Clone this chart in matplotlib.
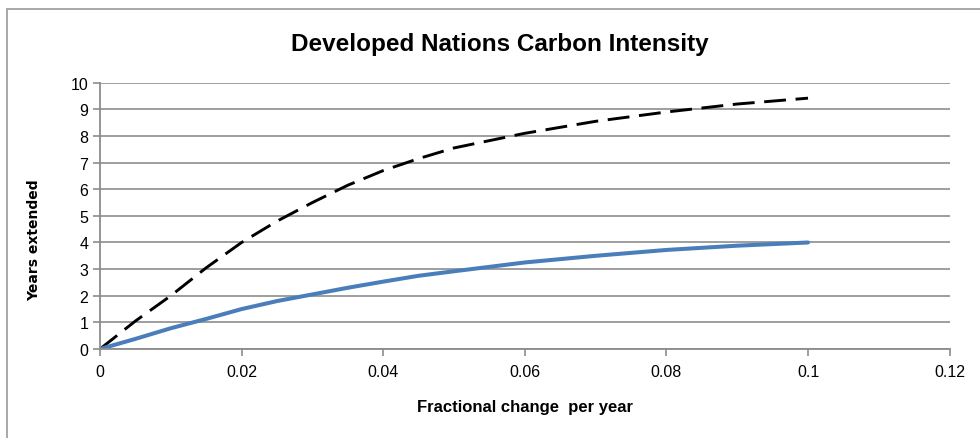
"""Developed nations carbon intensity: years extended vs fractional change"""

import matplotlib
matplotlib.use("Agg")
import matplotlib.pyplot as plt
from matplotlib.patches import Rectangle

frac_change = [0, 0.005, 0.01, 0.015, 0.02, 0.025, 0.03, 0.035, 0.04, 0.045,
               0.05, 0.06, 0.07, 0.08, 0.09, 0.1]
years_dashed = [0, 1.05, 2.0, 3.05, 4.0, 4.8, 5.5, 6.15, 6.7, 7.15,
                7.55, 8.1, 8.55, 8.9, 9.2, 9.42]
years_solid = [0, 0.38, 0.78, 1.13, 1.5, 1.8, 2.05, 2.3, 2.53, 2.75,
               2.92, 3.25, 3.5, 3.72, 3.88, 4.0]

x_ticks = [0, 0.02, 0.04, 0.06, 0.08, 0.1, 0.12]
x_tick_labels = ["0", "0.02", "0.04", "0.06", "0.08", "0.1", "0.12"]
y_ticks = list(range(0, 11))


def main():
    plt.rcParams['font.family'] = ['Liberation Sans', 'DejaVu Sans']

    fig = plt.figure(figsize=(9.8, 4.39), dpi=100)
    fig.patches.append(Rectangle((7 / 980, -0.1), 1.2, 0.1 + (439 - 10) / 439,
                                 transform=fig.transFigure, fill=False,
                                 edgecolor='#9a9a9a', linewidth=1.2))

    ax = fig.add_axes([0.102, 0.2027, 0.867, 0.6066])

    ax.plot(frac_change, years_dashed, color='black', linewidth=2.1,
            dashes=(7.5, 3.3), dash_capstyle='butt')
    ax.plot(frac_change, years_solid, color='#4a7ebb', linewidth=2.9,
            solid_capstyle='round')

    ax.set_xlim(0, 0.12)
    ax.set_ylim(0, 10)
    ax.set_xticks(x_ticks)
    ax.set_xticklabels(x_tick_labels)
    ax.set_yticks(y_ticks)

    ax.grid(axis='y', color='#969696', linewidth=1.3)
    ax.set_axisbelow(True)
    for side in ['top', 'right']:
        ax.spines[side].set_visible(False)
    for side in ['left', 'bottom']:
        ax.spines[side].set_color('#8c8c8c')
        ax.spines[side].set_linewidth(1.3)
    ax.tick_params(axis='both', colors='#8c8c8c', labelcolor='black',
                   labelsize=11.5, length=5, width=1.2)
    ax.tick_params(axis='x', pad=6)

    fig.text(500 / 980, 1 - 45 / 439, "Developed Nations Carbon Intensity",
             ha='center', va='center', fontsize=17.5, fontweight='bold')
    fig.text(525 / 980, 1 - 408 / 439, "Fractional change  per year",
             ha='center', va='center', fontsize=12, fontweight='bold')
    fig.text(34 / 980, 1 - 240 / 439, "Years extended", rotation=90,
             ha='center', va='center', fontsize=10, fontweight='bold',
             family=['DejaVu Sans'])

    fig.savefig('out.png', dpi=100)


if __name__ == "__main__":
    main()
